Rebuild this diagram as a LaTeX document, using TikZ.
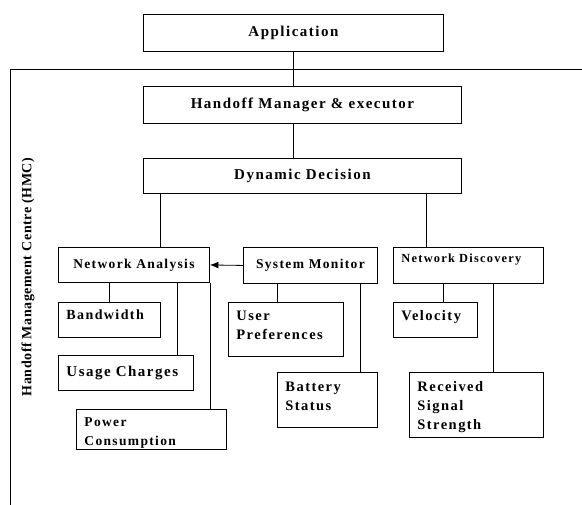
\documentclass[tikz,border=0pt]{standalone}
\usepackage{fontspec}
\setmainfont{Liberation Serif}[LetterSpace=10]
\usetikzlibrary{arrows.meta,positioning}

\begin{document}
\begin{tikzpicture}[
    x=1pt, y=-1pt,
    every node/.style={font=\fontsize{14.5}{19}\selectfont\bfseries},
    box/.style={draw, line width=0.9pt, anchor=north west, inner sep=0pt, align=center},
    leftbox/.style={box, align=left, inner xsep=8pt},
    link/.style={line width=0.7pt},
    flow/.style={-{Latex[length=3mm, width=2.4mm]}, line width=0.8pt}
]
\useasboundingbox (0,0) rectangle (582,505);
% outer frame of the centre
\draw[link] (582,69) -| (10,505);
\node[rotate=90, font=\fontsize{14}{16}\selectfont\bfseries\addfontfeature{LetterSpace=4}] (hmc) at (28,277) {Handoff Management Centre (HMC)};

% top chain
\node[box, minimum width=300pt, minimum height=37pt, font=\fontsize{15}{19}\selectfont\bfseries] (app) at (143,14) {Application};
\node[box, minimum width=318pt, minimum height=37pt, font=\fontsize{15}{19}\selectfont\bfseries] (hm) at (143,86) {Handoff Manager \& executor};
\node[box, minimum width=318pt, minimum height=35pt, font=\fontsize{15}{19}\selectfont\bfseries] (dd) at (143,158) {Dynamic Decision};

% second level
\node[box, minimum width=151pt, minimum height=35pt, font=\fontsize{13.5}{19}\selectfont\bfseries] (na) at (58,247) {Network Analysis};
\node[box, minimum width=134pt, minimum height=36pt, font=\fontsize{13.5}{19}\selectfont\bfseries] (sm) at (243,247) {System Monitor};
\node[leftbox, text width=134pt, text height=15pt, text depth=21pt, font=\fontsize{12.4}{19}\selectfont\bfseries] (nd) at (393,247) {Network Discovery};

% leaves
\node[leftbox, text width=86pt, text height=17pt, text depth=18pt, font=\fontsize{14}{19}\selectfont\bfseries] (bw) at (58,302) {Bandwidth};
\node[leftbox, text width=119pt, minimum height=35pt, font=\fontsize{15}{19}\selectfont\bfseries] (uc) at (58,355) {Usage Charges};
\node[leftbox, text width=134pt, text height=17pt, text depth=23pt, font=\fontsize{13.5}{19}\selectfont\bfseries] (pc) at (76,409) {Power\\Consumption};
\node[leftbox, text width=99pt, text height=18pt, text depth=36pt] (up) at (228,302) {User\\Preferences};
\node[leftbox, text width=84pt, text height=19pt, text depth=36pt] (bs) at (277,372) {Battery\\Status};
\node[leftbox, text width=68pt, text height=18pt, text depth=17pt] (vel) at (393,302) {Velocity};
\node[leftbox, text width=118pt, text height=19pt, text depth=46pt] (rss) at (409,372) {Received\\Signal\\Strength};

% connectors
\draw[link] (app.south) -- (app.south |- hm.north);
\draw[link] (app.south |- hm.south) -- (app.south |- dd.north);
\draw[link] ([xshift=26.5pt]na.north) -- ([xshift=26.5pt]na.north |- dd.south);
\draw[link] ([xshift=-42pt]nd.north) -- ([xshift=-42pt]nd.north |- dd.south);
\draw[flow] (sm.west) -- (na.east);
\draw[link] (bw.north) -- (bw.north |- na.south);
\draw[link] ([xshift=51.5pt]uc.north) -- ([xshift=51.5pt]uc.north |- na.south);
\draw[link] (na.south east) -- (na.south east |- pc.north);
\draw[link] ([xshift=-8.5pt]up.north) -- ([xshift=-8.5pt]up.north |- sm.south);
\draw[link] ([xshift=33pt]bs.north) -- ([xshift=33pt]bs.north |- sm.south);
\draw[link] ([xshift=8pt]vel.north) -- ([xshift=8pt]vel.north |- nd.south);
\draw[link] ([xshift=17pt]rss.north) -- ([xshift=17pt]rss.north |- nd.south);
\end{tikzpicture}
\end{document}
